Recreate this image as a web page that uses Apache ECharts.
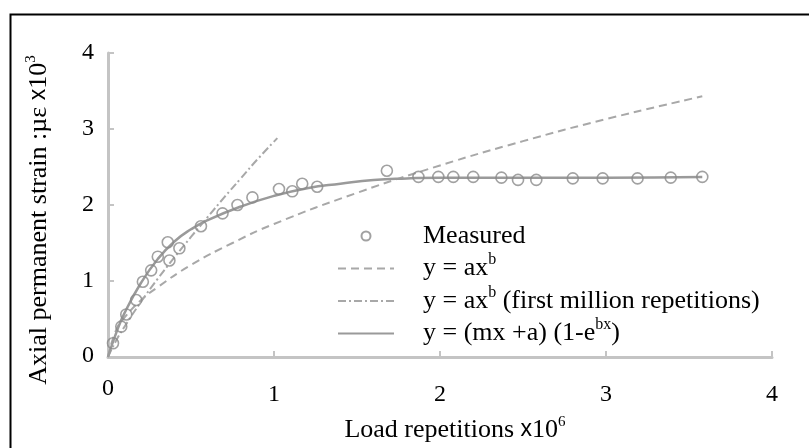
<!DOCTYPE html>
<html>
<head>
<meta charset="utf-8">
<script src="https://cdn.jsdelivr.net/npm/echarts@6/dist/echarts.min.js"></script>
<style>html,body{margin:0;padding:0;background:#fff;}#c{width:809px;height:448px;}</style>
</head>
<body>
<div id="c"></div>
<script>
// Measured data (load repetitions x10^6, strain x10^3)
const measuredX = [0.03, 0.08, 0.11, 0.17, 0.21, 0.26, 0.30, 0.36, 0.37, 0.43, 0.56, 0.69, 0.78, 0.87, 1.03, 1.11, 1.17, 1.26, 1.68, 1.87, 1.99, 2.08, 2.20, 2.37, 2.47, 2.58, 2.80, 2.98, 3.19, 3.39, 3.58];
const measuredY = [0.18, 0.40, 0.56, 0.75, 0.99, 1.14, 1.32, 1.51, 1.27, 1.43, 1.72, 1.89, 2.00, 2.10, 2.21, 2.18, 2.28, 2.24, 2.45, 2.37, 2.37, 2.37, 2.37, 2.36, 2.33, 2.33, 2.35, 2.35, 2.35, 2.36, 2.37];

// y = ax^b (dashed)
const powX = [0, 0.05, 0.1, 0.2, 0.3, 0.5, 0.75, 1.0, 1.5, 2.0, 2.5, 3.0, 3.58];
const powY = [0, 0.36, 0.52, 0.75, 0.92, 1.21, 1.50, 1.75, 2.16, 2.52, 2.84, 3.13, 3.43];

// y = ax^b (first million repetitions) (dash-dot)
const firstX = [0, 0.05, 0.1, 0.2, 0.3, 0.4, 0.5, 0.6, 0.7, 0.8, 0.9, 1.02];
const firstY = [0, 0.22, 0.40, 0.73, 1.03, 1.31, 1.58, 1.84, 2.10, 2.35, 2.60, 2.88];

// y = (mx + a)(1 - e^bx) (solid)
const fitX = [0, 0.05, 0.1, 0.2, 0.3, 0.4, 0.5, 0.6, 0.8, 1.0, 1.2, 1.4, 1.6, 1.8, 2.0, 2.5, 3.0, 3.58];
const fitY = [0, 0.32, 0.58, 0.98, 1.29, 1.52, 1.68, 1.80, 1.98, 2.12, 2.22, 2.28, 2.33, 2.35, 2.36, 2.36, 2.36, 2.37];

const xTicks = [0, 1, 2, 3, 4];
const yTicks = [0, 1, 2, 3, 4];

const seriesNames = ['Measured', 'y = ax^b', 'y = ax^b (first million repetitions)', 'y = (mx +a) (1-e^bx)'];
const legendRich = {
  '0': '{sp|}{n|Measured}',
  '1': '{sp|}{n|y = ax}{sup|b}',
  '2': '{sp|}{n|y = ax}{sup|b}{n| (first million repetitions)}',
  '3': '{sp|}{n|y = (mx +a) (1-e}{sup|bx}{n|)}'
};

const zip = (xs, ys) => xs.map((x, i) => [x, ys[i]]);
const serif = 'Liberation Serif';
const axisColor = '#c4c4c4';
const lineColor = '#a8a8a8';
const hiddenSym = {opacity: 0};

const chart = echarts.init(document.getElementById('c'), null, {renderer: 'canvas'});
chart.setOption({
  animation: false,
  backgroundColor: '#fff',
  grid: {left: 108, right: 37, top: 53, bottom: 80},
  graphic: [{
    type: 'rect', left: 8, top: 12, z: 100, silent: true,
    shape: {width: 820, height: 460},
    style: {fill: 'none', stroke: '#000', lineWidth: 2}
  }],
  legend: {
    orient: 'vertical', left: 332, top: 218,
    itemWidth: 56, itemHeight: 9, itemGap: 3,
    data: [
      {name: seriesNames[0]},
      {name: seriesNames[1], itemStyle: hiddenSym},
      {name: seriesNames[2], itemStyle: hiddenSym},
      {name: seriesNames[3], itemStyle: hiddenSym}
    ],
    formatter: function (name) { return legendRich[String(seriesNames.indexOf(name))]; },
    textStyle: {
      fontFamily: serif, fontSize: 26, color: '#000',
      rich: {
        sp: {width: 24},
        n: {fontFamily: serif, fontSize: 26, color: '#000', lineHeight: 33},
        sup: {fontFamily: serif, fontSize: 16, color: '#000', lineHeight: 16, verticalAlign: 'top'}
      }
    }
  },
  xAxis: {
    type: 'value', min: 0, max: 4, interval: 1,
    name: '{n|Load repetitions }{sx|x}{n|10}{sup|6}',
    nameLocation: 'middle', nameGap: 58,
    nameTextStyle: {
      padding: [0, 0, 0, 30],
      rich: {
        n: {fontFamily: serif, fontSize: 26, color: '#000', lineHeight: 30},
        sx: {fontFamily: 'Liberation Sans', fontSize: 23, color: '#000', lineHeight: 30},
        sup: {fontFamily: serif, fontSize: 15, color: '#000', lineHeight: 14, verticalAlign: 'top'}
      }
    },
    axisLine: {lineStyle: {color: axisColor, width: 3}},
    axisTick: {inside: true, length: 6, lineStyle: {color: axisColor, width: 2}},
    axisLabel: {fontFamily: serif, fontSize: 24, color: '#000', margin: 20,
      formatter: v => xTicks.includes(v) ? (v === 0 ? '{z|0}' : '{o|' + v + '}') : '',
      rich: {
        z: {fontFamily: serif, fontSize: 24, color: '#000'},
        o: {fontFamily: serif, fontSize: 24, color: '#000', padding: [6, 0, 0, 0]}
      }
    },
    splitLine: {show: false}
  },
  yAxis: {
    type: 'value', min: 0, max: 4, interval: 1,
    name: '{n|Axial permanent strain :µε }{sx|x}{n|10}{sup|3}',
    nameLocation: 'middle', nameGap: 54, nameRotate: 90,
    nameTextStyle: {
      padding: [0, 30, 0, 0],
      rich: {
        n: {fontFamily: serif, fontSize: 26, color: '#000', lineHeight: 30},
        sx: {fontFamily: 'Liberation Sans', fontSize: 23, color: '#000', lineHeight: 30},
        sup: {fontFamily: serif, fontSize: 15, color: '#000', lineHeight: 14, verticalAlign: 'top'}
      }
    },
    axisLine: {show: true, lineStyle: {color: axisColor, width: 3}},
    axisTick: {show: true, inside: true, length: 6, lineStyle: {color: axisColor, width: 2}},
    axisLabel: {fontFamily: serif, fontSize: 24, color: '#000', margin: 14,
      formatter: v => yTicks.includes(v) ? (v === 0 ? '{z|0}' : String(v)) : '',
      rich: {
        z: {fontFamily: serif, fontSize: 24, color: '#000', padding: [0, 0, 3, 0]}
      }
    },
    splitLine: {show: false}
  },
  series: [
    {
      name: seriesNames[0], type: 'scatter', z: 5,
      symbol: 'circle', symbolSize: 11,
      itemStyle: {color: 'rgba(255,255,255,0)', borderColor: '#8a8a8a', borderWidth: 1.6},
      data: zip(measuredX, measuredY)
    },
    {
      name: seriesNames[1], type: 'line', smooth: true, symbol: 'none',
      lineStyle: {color: lineColor, width: 2, type: [8, 5]},
      itemStyle: {color: lineColor},
      data: zip(powX, powY)
    },
    {
      name: seriesNames[2], type: 'line', smooth: true, symbol: 'none',
      lineStyle: {color: lineColor, width: 2, type: [8, 3, 2, 3]},
      itemStyle: {color: lineColor},
      data: zip(firstX, firstY)
    },
    {
      name: seriesNames[3], type: 'line', smooth: true, symbol: 'none',
      lineStyle: {color: '#9a9a9a', width: 2.5},
      itemStyle: {color: '#9a9a9a'},
      data: zip(fitX, fitY)
    }
  ]
});
</script>
</body>
</html>
